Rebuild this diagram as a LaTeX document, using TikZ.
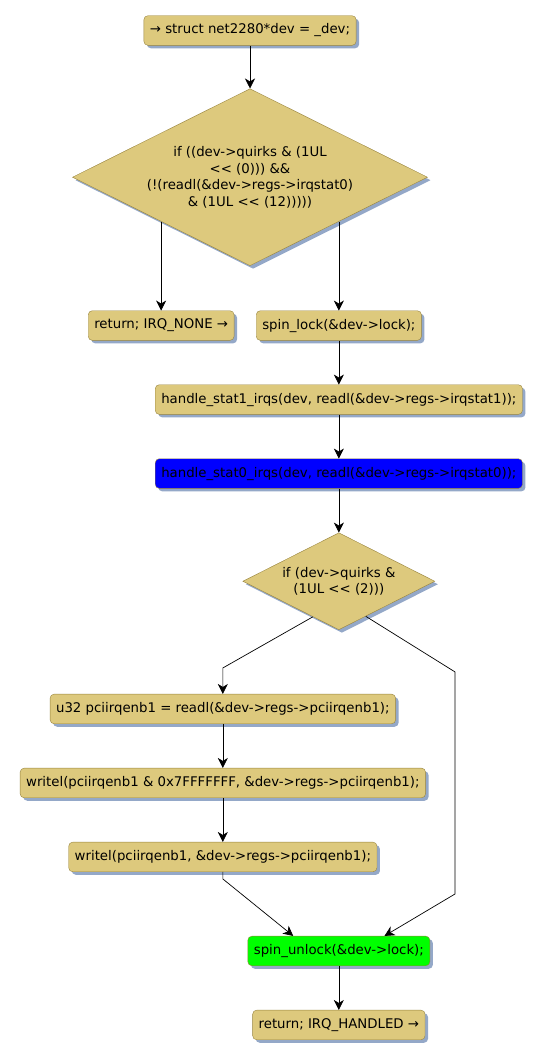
\documentclass[tikz,border=0pt]{standalone}
\usepackage{fontspec}
\setmainfont{DejaVu Sans}[Ligatures=TeXOff]
\usetikzlibrary{positioning,shapes.geometric,shadows,arrows.meta,calc}

\definecolor{actfill}{RGB}{221,201,125}
\definecolor{actline}{RGB}{152,132,62}
\definecolor{actshade}{RGB}{148,168,200}

\tikzset{
  action/.style={draw=actline, fill=actfill, rounded corners=4pt,
    minimum height=29.6pt, inner xsep=6pt,
    font=\fontsize{13.3}{15}\selectfont,
    drop shadow={shadow xshift=3pt, shadow yshift=-3pt, fill=actshade, opacity=1}},
  choice/.style={diamond, aspect=2, draw=actline, fill=actfill, align=center, inner sep=0pt,
    font=\fontsize{13.3}{16.5}\selectfont,
    drop shadow={shadow xshift=3pt, shadow yshift=-3pt, fill=actshade, opacity=1}},
  flow/.style={-{Stealth[length=10pt,width=10pt,inset=3pt]}, line width=0.7pt},
  node distance=44pt
}

\begin{document}
\begin{tikzpicture}
        \useasboundingbox (0,0) rectangle (546pt,-1058pt);

        \node (start) [action] at (250pt,-30.5pt) {→ struct net2280*dev = \_dev;};

        \node (quirk0) [choice, minimum width=355pt, minimum height=177pt, below=43pt of start]
              {if ((dev->quirks \& (1UL\\<< (0))) \&\&\\(!(readl(\&dev->regs->irqstat0)\\\& (1UL << (12)))))};

        \node (none)  [action, below=89pt of quirk0.south west] {return; IRQ\_NONE →};
        \node (lock)  [action, below=89pt of quirk0.south east] {spin\_lock(\&dev->lock);};
        \node (stat1) [action, below=of lock] {handle\_stat1\_irqs(dev, readl(\&dev->regs->irqstat1));};
        \node (stat0) [action, fill=blue, below=of stat1] {handle\_stat0\_irqs(dev, readl(\&dev->regs->irqstat0));};

        \node (quirk2) [choice, minimum width=192pt, minimum height=97pt, below=of stat0]
              {if (dev->quirks \&\\(1UL << (2)))};

        \node (read)   [action, below=64pt of quirk2, xshift=-116pt] {u32 pciirqenb1 = readl(\&dev->regs->pciirqenb1);};
        \node (mask)   [action, below=of read] {writel(pciirqenb1 \& 0x7FFFFFFF, \&dev->regs->pciirqenb1);};
        \node (write)  [action, below=of mask] {writel(pciirqenb1, \&dev->regs->pciirqenb1);};
        \node (unlock) [action, fill=green, below=64pt of write, xshift=116pt] {spin\_unlock(\&dev->lock);};
        \node (done)   [action, below=of unlock] {return; IRQ\_HANDLED →};

        \coordinate (yes2)   at ($(quirk2.east)!0.72!(quirk2.south)$);
        \coordinate (no2)    at ($(quirk2.west)!0.73!(quirk2.south)$);
        \coordinate (bypass) at ([xshift=20pt]quirk2.east);

        \draw [flow] (start) -- (quirk0);
        \draw [flow] (quirk0.south west) -- (none);
        \draw [flow] (quirk0.south east) -- (lock);
        \draw [flow] (lock) -- (stat1);
        \draw [flow] (stat1) -- (stat0);
        \draw [flow] (stat0) -- (quirk2);

        \draw [flow] (no2) -- ([yshift=26pt]read.north) -- (read);
        \draw [flow] (read) -- (mask);
        \draw [flow] (mask) -- (write);
        \draw [flow] (write) -- ++(0,-22pt) -- ($(unlock.north west)!0.25!(unlock.north east)$);
        \draw [flow] (yes2) -- ($(bypass |- read.north)+(0,22pt)$) -- ($(bypass |- unlock.north)+(0,42pt)$)
                     -- ($(unlock.north west)!0.75!(unlock.north east)$);
        \draw [flow] (unlock) -- (done);
      \end{tikzpicture}
\end{document}
